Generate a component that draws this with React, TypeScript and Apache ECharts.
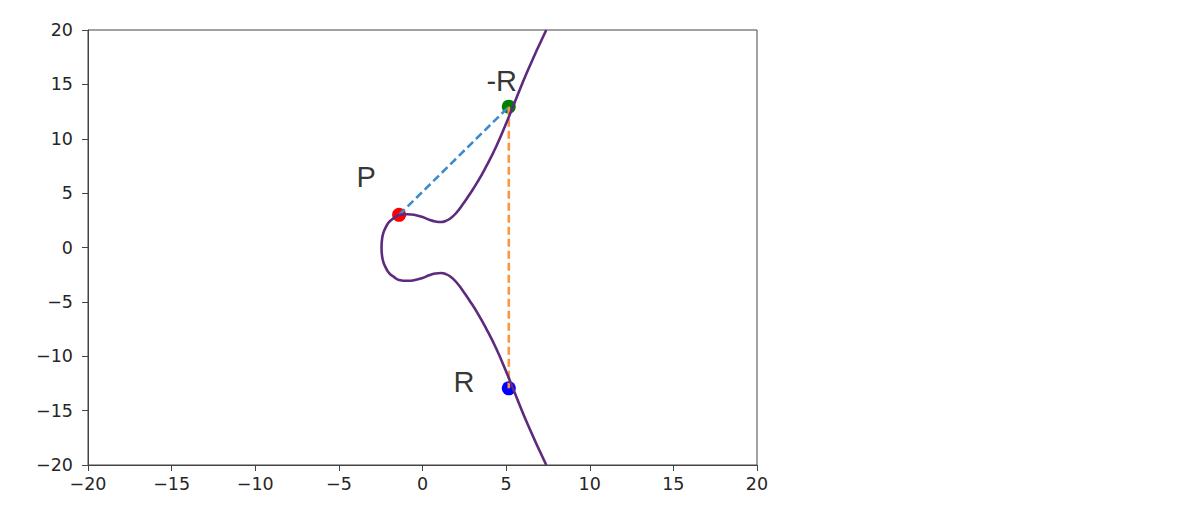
import React, { useEffect, useRef } from "react";
import * as echarts from "echarts";

// Curve, upper branch left to right
const upperX = [-2.45, -2.42, -2.34, -2.20, -1.98, -1.68, -1.40, -0.90, -0.45, 0.00, 0.40, 0.75, 1.10, 1.40, 1.70, 2.00, 2.40, 2.80, 3.30, 3.80, 4.40, 5.00, 5.37, 6.30, 7.40];
const upperY = [0, 0.75, 1.35, 1.85, 2.38, 2.74, 2.98, 3.06, 2.99, 2.80, 2.56, 2.40, 2.34, 2.45, 2.72, 3.15, 3.95, 4.85, 6.05, 7.43, 9.27, 11.4, 12.8, 16.3, 20];
// lower branch right to left
const lowerX = [7.40, 6.30, 5.37, 5.00, 4.40, 3.80, 3.30, 2.80, 2.40, 2.00, 1.70, 1.40, 1.10, 0.75, 0.40, 0.00, -0.45, -0.90, -1.40, -1.68, -1.98, -2.20, -2.34, -2.42];
const lowerY = [-20, -16.3, -12.8, -11.4, -9.27, -7.43, -6.05, -4.85, -3.95, -3.15, -2.72, -2.45, -2.34, -2.40, -2.56, -2.80, -2.99, -3.06, -2.98, -2.74, -2.38, -1.85, -1.35, -0.75];

// Points
const pointNames = ["P", "-R", "R"];
const pointX = [-1.4, 5.16, 5.16];
const pointY = [3.0, 12.95, -12.95];
const pointColors = ["#ff0000", "#008000", "#0000ff"];

// Annotation texts
const labelTexts = ["P", "-R", "R"];
const labelX = [-3.92, 3.85, 1.88];
const labelY = [6.48, 15.22, -12.41];

// Axis ticks
const axisMin = -20;
const axisMax = 20;
const axisStep = 5;

export default function App() {
  const ref = useRef<HTMLDivElement>(null);
  useEffect(() => {
    if (!ref.current) return;
    const chart = echarts.init(ref.current, null, { renderer: "svg" });
    const curve: number[][] = [];
    lowerX.forEach((x, i) => curve.push([x, lowerY[i]]));
    upperX.forEach((x, i) => curve.push([x, upperY[i]]));
    const fmt = (v: number) => String(v).replace("-", "\u2212");
    const axisCommon = {
      type: "value" as const,
      min: axisMin,
      max: axisMax,
      interval: axisStep,
      splitLine: { show: false },
      axisLine: { show: true, onZero: false, lineStyle: { color: "#444", width: 1 } },
      axisTick: { show: true, inside: false, length: 6, lineStyle: { color: "#444", width: 1 } },
    };
    chart.setOption({
      animation: false,
      grid: { left: 88, right: 437, top: 30, bottom: 55, show: true, borderColor: "#444", borderWidth: 1, containLabel: false },
      xAxis: {
        ...axisCommon,
        axisLabel: { margin: 10, fontSize: 17.5, color: "#262626", fontFamily: "DejaVu Sans", formatter: fmt },
      },
      yAxis: {
        ...axisCommon,
        axisLabel: { margin: 15, fontSize: 17.5, color: "#262626", fontFamily: "DejaVu Sans", formatter: fmt },
      },
      series: [
        {
          type: "scatter",
          z: 2,
          symbolSize: 14,
          data: pointNames.map((n, i) => ({ name: n, value: [pointX[i], pointY[i]], itemStyle: { color: pointColors[i], opacity: 1 } })),
        },
        {
          type: "line",
          z: 3,
          symbol: "none",
          data: [[pointX[0], pointY[0]], [pointX[1], pointY[1]]],
          lineStyle: { color: "#3b8bd0", width: 2.6, type: [8, 4] },
        },
        {
          type: "line",
          z: 3,
          symbol: "none",
          data: [[pointX[1], pointY[1]], [pointX[2], pointY[2]]],
          lineStyle: { color: "#fd9640", width: 2.6, type: [8, 4] },
        },
        {
          type: "line",
          z: 4,
          symbol: "none",
          smooth: 0.5,
          clip: true,
          data: curve,
          lineStyle: { color: "#5e2a7e", width: 2.6 },
        },
        {
          type: "scatter",
          z: 5,
          symbolSize: 1,
          itemStyle: { color: "rgba(0,0,0,0)" },
          data: labelTexts.map((t, i) => ({ name: t, value: [labelX[i], labelY[i]] })),
          label: {
            show: true,
            position: [0, 0],
            align: "left",
            verticalAlign: "middle",
            formatter: (p: any) => p.name,
            fontSize: 29,
            fontFamily: "Liberation Sans",
            color: "#000",
          },
        },
      ],
    });
    return () => chart.dispose();
  }, []);
  return <div ref={ref} style={{ position: "fixed", left: 0, top: 0, width: 1194, height: 520, background: "#fff" }} />;
}
